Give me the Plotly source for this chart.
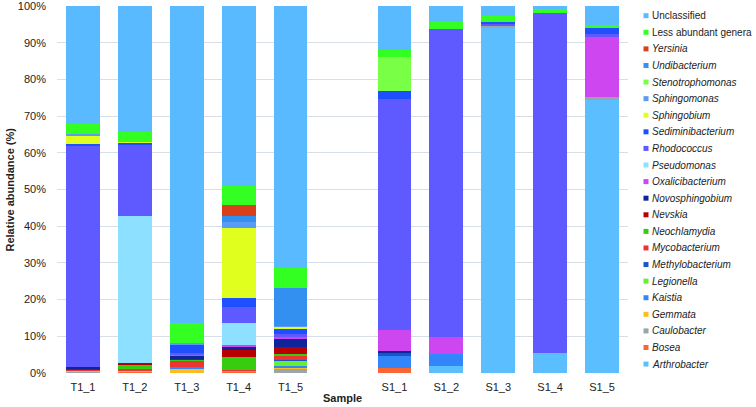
import plotly.graph_objects as go

samples = ["T1_1", "T1_2", "T1_3", "T1_4", "T1_5", "S1_1", "S1_2", "S1_3", "S1_4", "S1_5"]

# genus order: bottom of stack -> top of stack
genera = ["Arthrobacter", "Bosea", "Caulobacter", "Gemmata", "Kaistia", "Legionella",
          "Methylobacterium", "Mycobacterium", "Neochlamydia", "Nevskia", "Novosphingobium",
          "Oxalicibacterium", "Pseudomonas", "Rhodococcus", "Sediminibacterium", "Sphingobium",
          "Sphingomonas", "Stenotrophomonas", "Undibacterium", "Yersinia",
          "Less abundant genera", "Unclassified"]

Arthrobacter = [0, 0, 0, 0, 0, 0, 1.8, 94.2, 5.4, 74.5]
Bosea = [0.2, 0.2, 0, 0.3, 0, 1.35, 0, 0, 0, 0]
Caulobacter = [0.3, 0, 0, 0.3, 1.1, 0, 0, 0.3, 0, 0.8]
Gemmata = [0.2, 0.55, 1.2, 0, 0.5, 0, 0, 0, 0, 0]
Kaistia = [0, 0, 0.4, 0, 0.2, 3.15, 3.4, 0, 0, 0]
Legionella = [0, 0, 0, 0, 1.55, 0, 0, 0, 0, 0]
Methylobacterium = [0, 0, 0, 0, 0.2, 1.1, 0, 0, 0, 0]
Mycobacterium = [0.35, 0.3, 1.8, 0.3, 1.35, 0, 0, 0, 0, 0]
Neochlamydia = [0, 1.0, 0.35, 3.4, 0.2, 0, 0, 0, 0, 0]
Nevskia = [0.2, 0.65, 0.2, 2.1, 2.1, 0, 0, 0, 0, 0]
Novosphingobium = [0.3, 0, 0.7, 0.9, 2.25, 0.3, 0, 0, 0, 0]
Oxalicibacterium = [0, 0, 0.3, 0.45, 0.45, 5.8, 4.6, 0, 0, 16.2]
Pseudomonas = [0, 40.0, 0, 5.75, 0, 0, 0, 0, 0, 0]
Rhodococcus = [60.45, 19.6, 0.4, 4.6, 0.6, 62.9, 83.8, 0.8, 92.7, 0.9]
Sediminibacterium = [0.3, 0.4, 2.35, 2.3, 1.7, 2.3, 0, 0.4, 0, 1.6]
Sphingobium = [2.5, 0.3, 0, 19.2, 0.5, 0, 0, 0, 0, 0]
Sphingomonas = [0.3, 0, 0.4, 1.6, 0.2, 0, 0, 0, 0, 0]
Stenotrophomonas = [0, 0, 0, 0, 0, 9.3, 0, 0, 0, 0]
Undibacterium = [0, 0, 0, 1.7, 10.3, 0, 0, 0, 0, 0]
Yersinia = [0, 0, 0, 2.9, 0, 0, 0, 0, 0, 0]
Less_abundant = [2.8, 2.65, 5.5, 5.2, 5.5, 1.8, 2.4, 1.5, 1.1, 0.8]
Unclassified = [32.1, 34.35, 86.4, 49.0, 71.3, 12.0, 4.0, 2.8, 0.8, 5.2]

values = [Arthrobacter, Bosea, Caulobacter, Gemmata, Kaistia, Legionella, Methylobacterium,
          Mycobacterium, Neochlamydia, Nevskia, Novosphingobium, Oxalicibacterium, Pseudomonas,
          Rhodococcus, Sediminibacterium, Sphingobium, Sphingomonas, Stenotrophomonas,
          Undibacterium, Yersinia, Less_abundant, Unclassified]

colors = ["#5bbfff", "#fa6632", "#98a6ab", "#ffbb22", "#3386fa", "#66ee33",
          "#1557c8", "#ee3333", "#37cc10", "#b80000", "#0f239a",
          "#cd46f0", "#8de0ff", "#5f5aff", "#1e50ff", "#e0ff1e",
          "#5a9bf5", "#78ff46", "#3390f0", "#d6401a",
          "#33ff22", "#5abaff"]

ytick_vals = [0, 10, 20, 30, 40, 50, 60, 70, 80, 90, 100]
ytick_text = [f"{v}%" for v in ytick_vals]

# category slots: T1 group, one empty slot, S1 group
positions = [i if i < 5 else i + 1 for i in range(len(samples))]

fig = go.Figure()
for name, vals, col in zip(genera, values, colors):
    fig.add_trace(go.Bar(x=positions, y=vals, name=name, marker=dict(color=col, line=dict(width=0)),
                         showlegend=False))

W, H = 756, 407
L, R, T, B = 57, 128, 6, 34
pw, ph = W - L - R, H - T - B

fig.update_layout(
    width=W, height=H, barmode="stack", bargap=0.35,
    margin=dict(l=L, r=R, t=T, b=B, autoexpand=False),
    paper_bgcolor="white", plot_bgcolor="white",
    font=dict(family="Arial, Liberation Sans, sans-serif", size=11, color="#222"),
    xaxis=dict(range=[-0.5, 10.5], tickvals=positions, ticktext=samples, showgrid=False,
               zeroline=False, showline=False, ticks="", ticklabelstandoff=6, automargin=False,
               tickfont=dict(size=11, color="#222")),
    yaxis=dict(range=[0, 100], tickvals=ytick_vals, ticktext=ytick_text, showgrid=True,
               gridcolor="#d9dfe6", gridwidth=1, zeroline=False, showline=False, ticks="",
               ticklabelstandoff=10, automargin=False, ticklabeloverflow="allow",
               tickfont=dict(size=11, color="#222")),
)

def px_to_paper_x(px):
    return (px - L) / pw

def px_to_paper_y(py):
    return (H - B - py) / ph

annotations = [
    dict(text="<b>Sample</b>", xref="paper", yref="paper", x=0.5, y=px_to_paper_y(398),
         showarrow=False, xanchor="center", yanchor="middle", font=dict(size=11, color="#222")),
    dict(text="<b>Relative abundance (%)</b>", xref="paper", yref="paper", x=px_to_paper_x(9),
         y=0.5, textangle=-90, showarrow=False, xanchor="center", yanchor="middle",
         font=dict(size=11, color="#222")),
]
shapes = []
top_y, step = 15.7, 16.59
for k, (name, col) in enumerate(zip(genera[::-1], colors[::-1])):
    cy = top_y + k * step
    label = name if name in ("Unclassified", "Less abundant genera") else f"<i>{name}</i>"
    annotations.append(dict(text=label, xref="paper", yref="paper", x=px_to_paper_x(650),
                            y=px_to_paper_y(cy), showarrow=False, xanchor="left",
                            yanchor="middle", font=dict(size=10, color="#222")))
    shapes.append(dict(type="rect", xref="paper", yref="paper",
                       x0=px_to_paper_x(643.5), x1=px_to_paper_x(648.5),
                       y0=px_to_paper_y(cy + 2.5), y1=px_to_paper_y(cy - 2.5),
                       fillcolor=col, line=dict(width=0)))
fig.update_layout(annotations=annotations, shapes=shapes)

fig.write_html("out.html", config={"displayModeBar": False},
               post_script="document.body.style.margin='0';document.body.style.overflow='hidden';")
